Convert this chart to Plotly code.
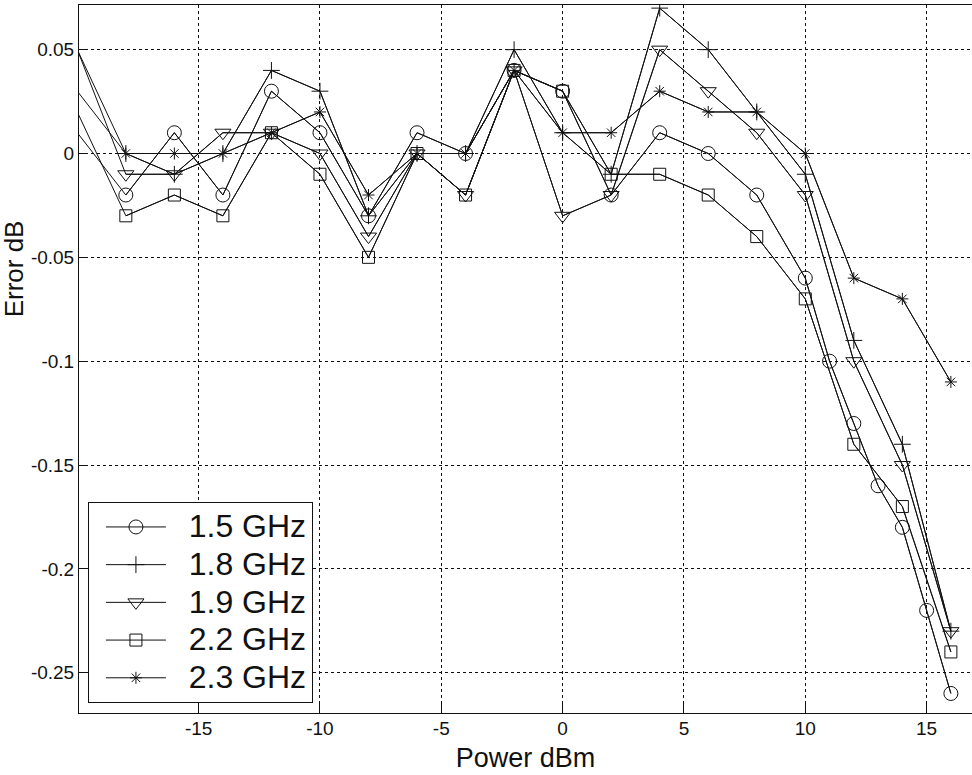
import plotly.graph_objects as go

# ---- data ----
x_coarse = [-20, -18, -16, -14, -12, -10, -8, -6, -4, -2, 0, 2, 4, 6, 8, 10, 12, 14, 16]
x_fine = [-20, -18, -16, -14, -12, -10, -8, -6, -4, -2, 0, 2, 4, 6, 8, 10, 11, 12, 13, 14, 15, 16]

err_15 = [0.01, -0.02, 0.01, -0.02, 0.03, 0.01, -0.03, 0.01, 0.0, 0.04, 0.03, -0.02, 0.01, 0.0,
          -0.02, -0.06, -0.10, -0.13, -0.16, -0.18, -0.22, -0.26]
err_18 = [0.05, 0.0, -0.01, 0.0, 0.04, 0.03, -0.03, 0.0, 0.0, 0.05, 0.01, -0.01, 0.07, 0.05,
          0.02, -0.01, -0.09, -0.14, -0.23]
err_19 = [0.05, -0.01, -0.01, 0.01, 0.01, 0.0, -0.04, 0.0, -0.02, 0.04, -0.03, -0.02, 0.05, 0.03,
          0.01, -0.02, -0.10, -0.15, -0.23]
err_22 = [0.02, -0.03, -0.02, -0.03, 0.01, -0.01, -0.05, 0.0, -0.02, 0.04, 0.03, -0.01, -0.01, -0.02,
          -0.04, -0.07, -0.14, -0.17, -0.24]
err_23 = [0.03, 0.0, 0.0, 0.0, 0.01, 0.02, -0.02, 0.0, 0.0, 0.04, 0.01, 0.01, 0.03, 0.02,
          0.02, 0.0, -0.06, -0.07, -0.11]

series_names = ["1.5 GHz", "1.8 GHz", "1.9 GHz", "2.2 GHz", "2.3 GHz"]
series_x = [x_fine, x_coarse, x_coarse, x_coarse, x_coarse]
series_y = [err_15, err_18, err_19, err_22, err_23]

x_ticks = [-15, -10, -5, 0, 5, 10, 15]
x_tick_labels = ["-15", "-10", "-5", "0", "5", "10", "15"]
y_ticks = [0.05, 0.0, -0.05, -0.1, -0.15, -0.2, -0.25]
y_tick_labels = ["0.05", "0", "-0.05", "-0.1", "-0.15", "-0.2", "-0.25"]

X_RANGE = [-19.93, 16.87]
Y_RANGE = [-0.2694, 0.0715]

symbols = ["circle-open", "cross-thin-open", "triangle-down-open", "square-open", "asterisk-open"]
sizes = [14, 12, 14, 12, 10]
INK = "#111111"

fig = go.Figure()
for name, xs, ys, sym, sz in zip(series_names, series_x, series_y, symbols, sizes):
    # full line (continues past the left axis edge)
    fig.add_trace(go.Scatter(x=xs, y=ys, mode="lines", showlegend=False,
                             line=dict(color=INK, width=1), hoverinfo="skip"))
    # visible points with markers
    vx = [a for a in xs if a >= X_RANGE[0]]
    vy = [b for a, b in zip(xs, ys) if a >= X_RANGE[0]]
    fig.add_trace(go.Scatter(x=vx, y=vy, mode="lines+markers",
                             name='<span style="font-size:32px">\u00a0\u00a0' + name + '</span>',
                             line=dict(color=INK, width=1),
                             marker=dict(symbol=sym, size=sz, color=INK,
                                         line=dict(color=INK, width=1))))

axis_common = dict(showline=True, linecolor=INK, linewidth=1,
                   ticks="inside", ticklen=9, tickcolor=INK, tickwidth=1,
                   showgrid=True, gridcolor=INK, gridwidth=1, griddash="3px,3px",
                   zeroline=False, tickfont=dict(size=19, color=INK))

fig.update_xaxes(range=X_RANGE, tickmode="array", tickvals=x_ticks, ticktext=x_tick_labels,
                 mirror=True, ticklabelstandoff=-2,
                 title=dict(text="Power dBm", font=dict(size=27, color=INK), standoff=10),
                 **axis_common)
fig.update_yaxes(range=Y_RANGE, tickmode="array", tickvals=y_ticks, ticktext=y_tick_labels,
                 mirror=False, **axis_common)

fig.add_annotation(text="Error dB", textangle=-90, xref="paper", yref="paper",
                   x=-0.0728, y=0.628, xanchor="center", yanchor="middle",
                   showarrow=False, font=dict(size=26, color=INK))

fig.update_layout(
    width=972, height=775,
    margin=dict(l=79, r=0, t=5, b=62),
    paper_bgcolor="white", plot_bgcolor="white",
    font=dict(family="Liberation Sans, Arial, sans-serif", color=INK),
    legend=dict(x=0.01, y=0.014, xanchor="left", yanchor="bottom",
                bgcolor="white", bordercolor=INK, borderwidth=1,
                font=dict(size=26.7, color=INK), itemwidth=60, indentation=12),
    showlegend=True,
)

fig.write_html("out.html", config={"displayModeBar": False},
               post_script="document.body.style.margin='0';")
